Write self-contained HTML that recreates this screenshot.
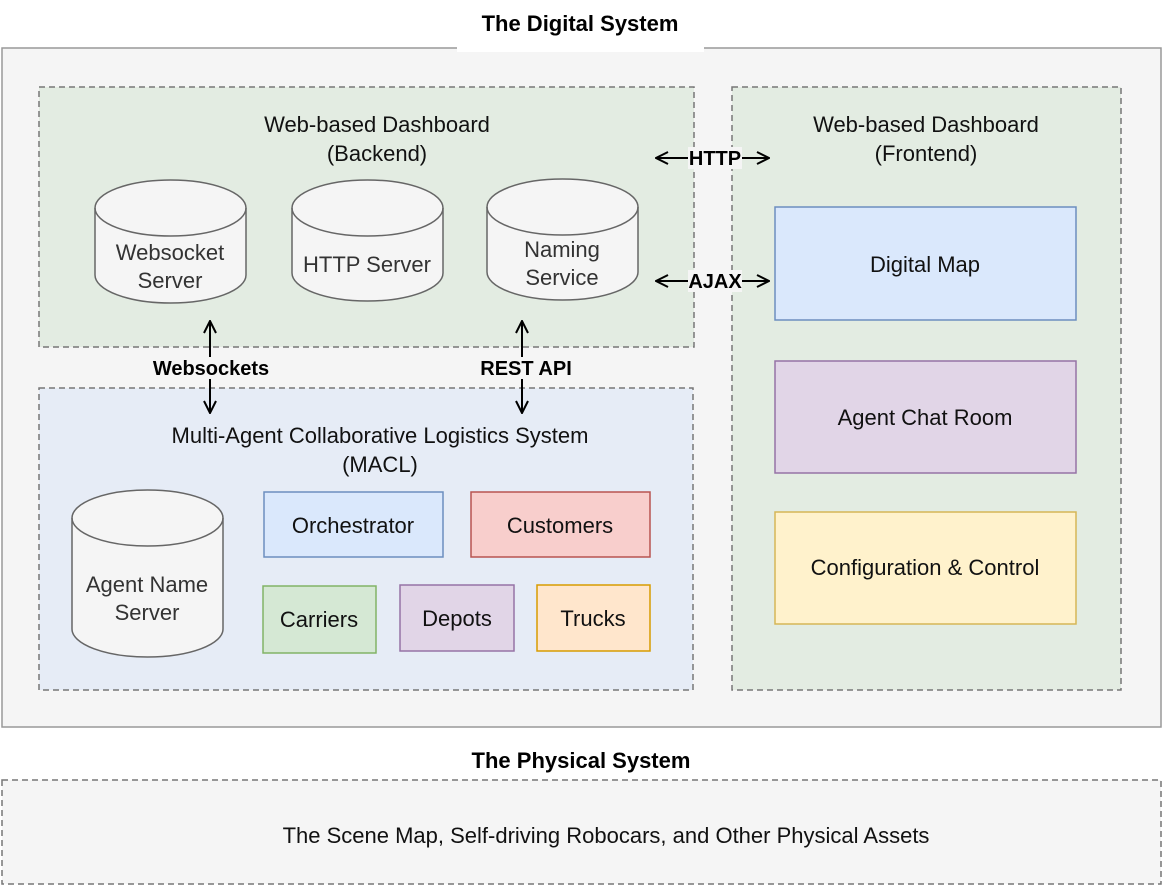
<!DOCTYPE html>
<html><head><meta charset="utf-8"><style>
html,body{margin:0;padding:0;background:#fff;}
svg{display:block;font-family:"Liberation Sans",Arial,sans-serif;}
</style></head><body>
<svg width="1163" height="888" viewBox="0 0 1163 888" xmlns="http://www.w3.org/2000/svg">
<defs>
<marker id="ah" viewBox="0 0 14 14" refX="13" refY="7" markerWidth="14" markerHeight="14" orient="auto-start-reverse" markerUnits="userSpaceOnUse">
<path d="M1,1 L13,7 L1,13" fill="none" stroke="#000" stroke-width="2"/>
</marker>
</defs>
<rect x="2" y="48" width="1159" height="679" fill="#f5f5f5" stroke="#999" stroke-width="1.5"/>
<rect x="457" y="40" width="247" height="12" fill="#fff"/>
<text x="580" y="31" text-anchor="middle" font-size="22" font-weight="bold" fill="#000">The Digital System</text>

<rect x="39" y="87" width="655" height="260" fill="#e3ece2" stroke="#777" stroke-width="1.5" stroke-dasharray="6,4"/>
<text x="377" y="132" text-anchor="middle" font-size="22" fill="#111">Web-based Dashboard</text>
<text x="377" y="161" text-anchor="middle" font-size="22" fill="#111">(Backend)</text>

<rect x="732" y="87" width="389" height="603" fill="#e3ece2" stroke="#777" stroke-width="1.5" stroke-dasharray="6,4"/>
<text x="926" y="132" text-anchor="middle" font-size="22" fill="#111">Web-based Dashboard</text>
<text x="926" y="161" text-anchor="middle" font-size="22" fill="#111">(Frontend)</text>

<rect x="39" y="388" width="654" height="302" fill="#e6ecf6" stroke="#777" stroke-width="1.5" stroke-dasharray="6,4"/>
<text x="380" y="443" text-anchor="middle" font-size="22" fill="#111">Multi-Agent Collaborative Logistics System</text>
<text x="380" y="472" text-anchor="middle" font-size="22" fill="#111">(MACL)</text>

<g fill="#f5f5f5" stroke="#666" stroke-width="1.5">
<path d="M95,208 A75.5,28 0 0 1 246,208 V275 A75.5,28 0 0 1 95,275 Z"/><path d="M95,208 A75.5,28 0 0 0 246,208" fill="none"/>
<path d="M292,208 A75.5,28 0 0 1 443,208 V273 A75.5,28 0 0 1 292,273 Z"/><path d="M292,208 A75.5,28 0 0 0 443,208" fill="none"/>
<path d="M487,207 A75.5,28 0 0 1 638,207 V272 A75.5,28 0 0 1 487,272 Z"/><path d="M487,207 A75.5,28 0 0 0 638,207" fill="none"/>
<path d="M72,518 A75.5,28 0 0 1 223,518 V629 A75.5,28 0 0 1 72,629 Z"/><path d="M72,518 A75.5,28 0 0 0 223,518" fill="none"/>
</g>
<g font-size="22" fill="#333" text-anchor="middle">
<text x="170" y="260">Websocket</text><text x="170" y="288">Server</text>
<text x="367" y="272">HTTP Server</text>
<text x="562" y="257">Naming</text><text x="562" y="285">Service</text>
<text x="147" y="592">Agent Name</text><text x="147" y="620">Server</text>
</g>

<rect x="775" y="207" width="301" height="113" fill="#dae8fc" stroke="#6c8ebf" stroke-width="1.5"/>
<rect x="775" y="361" width="301" height="112" fill="#e1d5e7" stroke="#9673a6" stroke-width="1.5"/>
<rect x="775" y="512" width="301" height="112" fill="#fff2cc" stroke="#d6b656" stroke-width="1.5"/>
<rect x="264" y="492" width="179" height="65" fill="#dae8fc" stroke="#6c8ebf" stroke-width="1.5"/>
<rect x="471" y="492" width="179" height="65" fill="#f8cecc" stroke="#b85450" stroke-width="1.5"/>
<rect x="263" y="586" width="113" height="67" fill="#d5e8d4" stroke="#82b366" stroke-width="1.5"/>
<rect x="400" y="585" width="114" height="66" fill="#e1d5e7" stroke="#9673a6" stroke-width="1.5"/>
<rect x="537" y="585" width="113" height="66" fill="#ffe6cc" stroke="#d79b00" stroke-width="1.5"/>
<g font-size="22" fill="#111" text-anchor="middle">
<text x="925" y="272">Digital Map</text>
<text x="925" y="425">Agent Chat Room</text>
<text x="925" y="575">Configuration &amp; Control</text>
<text x="353" y="533">Orchestrator</text>
<text x="560" y="533">Customers</text>
<text x="319" y="627">Carriers</text>
<text x="457" y="626">Depots</text>
<text x="593" y="626">Trucks</text>
</g>

<g stroke="#000" stroke-width="2" fill="none">
<line x1="210" y1="321" x2="210" y2="413" marker-start="url(#ah)" marker-end="url(#ah)"/>
<line x1="522" y1="321" x2="522" y2="413" marker-start="url(#ah)" marker-end="url(#ah)"/>
<line x1="656" y1="158" x2="769" y2="158" marker-start="url(#ah)" marker-end="url(#ah)"/>
<line x1="656" y1="281" x2="769" y2="281" marker-start="url(#ah)" marker-end="url(#ah)"/>
</g>
<rect x="150" y="357" width="122" height="22" fill="#f5f5f5"/>
<rect x="478" y="357" width="98" height="22" fill="#f5f5f5"/>
<rect x="688" y="147" width="54" height="22" fill="#f5f5f5"/>
<rect x="688" y="270" width="54" height="22" fill="#f5f5f5"/>
<g font-size="20" font-weight="bold" fill="#000" text-anchor="middle">
<text x="211" y="375">Websockets</text>
<text x="526" y="375">REST API</text>
<text x="715" y="165">HTTP</text>
<text x="715" y="288">AJAX</text>
</g>

<text x="581" y="768" text-anchor="middle" font-size="22" font-weight="bold" fill="#000">The Physical System</text>
<rect x="2" y="780" width="1159" height="104" fill="#f5f5f5" stroke="#777" stroke-width="1.5" stroke-dasharray="6,4"/>
<text x="606" y="843" text-anchor="middle" font-size="22" fill="#111">The Scene Map, Self-driving Robocars, and Other Physical Assets</text>
</svg>
</body></html>
